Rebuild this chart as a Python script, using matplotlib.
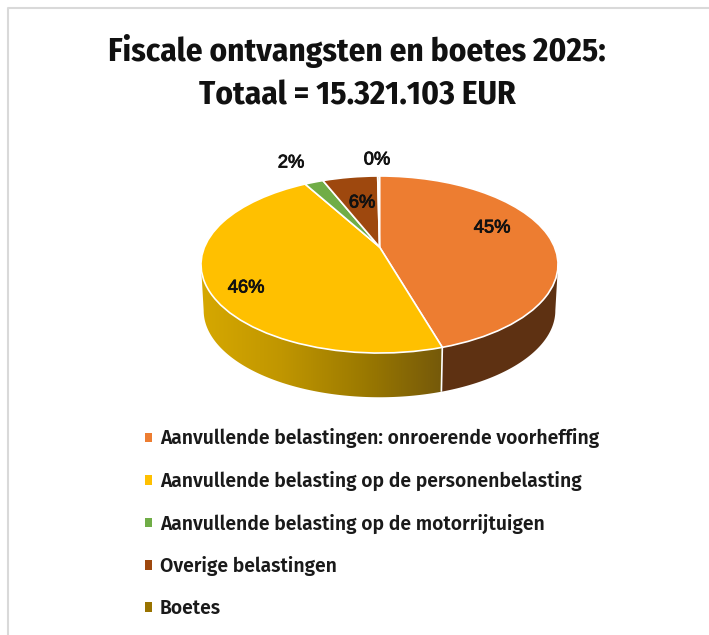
import numpy as np
import matplotlib
matplotlib.use("Agg")
import matplotlib.pyplot as plt
import matplotlib.patheffects as pe
from matplotlib.patches import Patch, Polygon
from matplotlib.transforms import Transform
from matplotlib.colors import LinearSegmentedColormap

title_lines = ["Fiscale ontvangsten en boetes 2025:", "Totaal = 15.321.103 EUR"]
categories = ["Aanvullende belastingen: onroerende voorheffing",
              "Aanvullende belasting op de personenbelasting",
              "Aanvullende belasting op de motorrijtuigen",
              "Overige belastingen",
              "Boetes"]
shares = [45.3, 46.4, 2.05, 6.05, 0.2]
colors = ["#ED7D31", "#FFC000", "#70AD47", "#9E480E", "#997300"]

W, H = 709, 635
fig = plt.figure(figsize=(W / 100, H / 100), dpi=100, facecolor="white")

ov = fig.add_axes([0, 0, 1, 1], zorder=5)
ov.set_xlim(0, W); ov.set_ylim(H, 0); ov.axis("off"); ov.patch.set_alpha(0)

L, R, T, B = 201, 558, 176, 353
ax = fig.add_axes([L / W, 1 - B / H, (R - L) / W, (B - T) / H], zorder=2)

K = 0.198


class Persp(Transform):
    input_dims = output_dims = 2
    is_separable = False
    has_inverse = False

    def transform_non_affine(self, xy):
        xy = np.asarray(xy, float)
        x, y = xy[:, 0], xy[:, 1]
        d = 1 + y * K
        return np.column_stack((x * np.sqrt(1 - K ** 2) / d, (y + K) / d))


persp = Persp()
wedges, _ = ax.pie(shares, colors=colors, startangle=90, counterclock=False,
                   radius=1, center=(0, 0),
                   wedgeprops=dict(edgecolor="#FFFFFF", linewidth=1.2, zorder=3))
ax.set_aspect("auto")
for w in wedges:
    w.set_transform(persp + ax.transData)
    w.set_clip_on(False)

DEPTH, SX, SY = 0.52, 0.985, 0.98
a0 = np.deg2rad(wedges[0].theta1)
p0 = persp.transform_non_affine(np.array([[np.cos(a0), np.sin(a0)]]))[0]
t0 = np.arctan2(p0[1], p0[0]) % (2 * np.pi)


def wall(t_from, t_to):
    t = np.linspace(t_from, t_to, 120)
    top = np.column_stack((np.cos(t), np.sin(t)))
    bot = np.column_stack((SX * np.cos(t[::-1]), SY * np.sin(t[::-1]) - DEPTH))
    return np.vstack((top, bot))


right = Polygon(wall(t0, 2 * np.pi), closed=True, facecolor="#5E3112",
                edgecolor="none", zorder=1, clip_on=False)
ax.add_patch(right)
left = Polygon(wall(np.pi, t0), closed=True, facecolor="none",
               edgecolor="none", zorder=1)
ax.add_patch(left)
cmap = LinearSegmentedColormap.from_list("side", ["#D6A800", "#C09600", "#9C7A00", "#75590A"])
img = ax.imshow(np.linspace(0, 1, 256)[None, :], cmap=cmap, aspect="auto",
                extent=(-1, p0[0], -1.7, 0.3), zorder=1)
img.set_clip_path(left)
img.set_clip_box(fig.bbox)
ax.plot([p0[0], SX * p0[0]], [p0[1], SY * p0[1] - DEPTH], color="white", lw=1.2,
        zorder=2, clip_on=False, solid_capstyle="butt")
ax.set_xlim(-1, 1); ax.set_ylim(-1, 1)
ax.axis("off")

lab_xy = [(492, 228), (246, 288), (291, 163), (362, 203), (377, 160)]
for v, (x, y) in zip(shares, lab_xy):
    ov.text(x, y, f"{v:.0f}%", ha="center", va="center", fontsize=13.2,
            family="Liberation Sans", color="#111111",
            path_effects=[pe.withStroke(linewidth=0.6, foreground="#111111")])

title_font = ["Fira Sans Condensed", "Liberation Sans"]
ov.text(357, 61, title_lines[0], ha="center", va="baseline", fontsize=23.9,
        family=title_font, weight="bold", color="#111111")
ov.text(357, 104.5, title_lines[1], ha="center", va="baseline", fontsize=23.9,
        family=title_font, weight="bold", color="#111111")

handles = [Patch(facecolor=c, edgecolor="none") for c in colors]
leg = ov.legend(handles, categories, loc="upper left", bbox_to_anchor=(145, 428.5),
                bbox_transform=ov.transData, frameon=False, ncol=1,
                prop=dict(family=["Fira Sans", "Noto Sans"], size=13.9, weight="semibold"),
                labelcolor="#1a1a1a", handlelength=0.38, handleheight=0.38,
                handletextpad=0.4, labelspacing=1.16, borderpad=0, borderaxespad=0)

ov.plot([7.5, 7.5, W], [H, 7.5, 7.5], color="#D9D9D9", lw=1.5, solid_capstyle="butt")

fig.savefig("out.png", dpi=100, facecolor="white")
